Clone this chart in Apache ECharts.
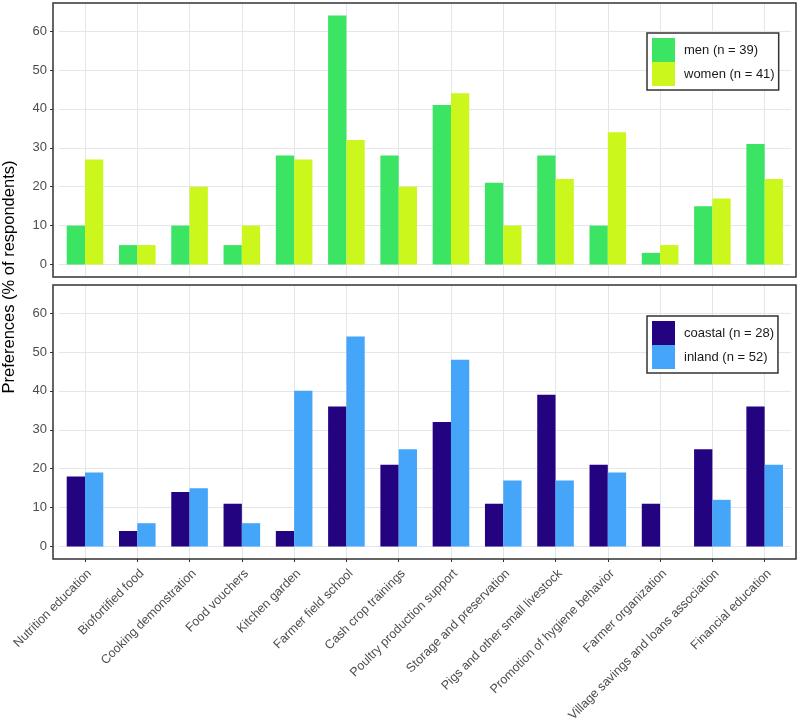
<!DOCTYPE html>
<html>
<head>
<meta charset="utf-8">
<script src="https://cdn.jsdelivr.net/npm/echarts@6/dist/echarts.min.js"></script>
<style>
html,body{margin:0;padding:0;background:#fff;}
#chart{width:798px;height:723px;}
</style>
</head>
<body>
<div id="chart"></div>
<script>
var categories = ["Nutrition education","Biofortified food","Cooking demonstration","Food vouchers","Kitchen garden","Farmer field school","Cash crop trainings","Poultry production support","Storage and preservation","Pigs and other small livestock","Promotion of hygiene behavior","Farmer organization","Village savings and loans association","Financial education"];
var men = [10,5,10,5,28,64,28,41,21,28,10,3,15,31];
var women = [27,5,20,10,27,32,20,44,10,22,34,5,17,22];
var coastal = [18,4,14,11,4,36,21,32,11,39,21,11,25,36];
var inland = [19,6,15,6,40,54,25,48,17,17,19,0,12,21];
var yTicks = [0,10,20,30,40,50,60];
var seriesNames = ["men (n = 39)","women (n = 41)","coastal (n = 28)","inland (n = 52)"];
var yTitle = "Preferences (% of respondents)";

var FONT = "Liberation Sans, Arial, Helvetica, sans-serif";
var gridColor = "#e2e7eb";
var frameColor = "#333333";
var catIndex = categories.map(function (c, i) { return i; });

function xAxisCfg(idx, showLabels) {
  return {
    type: "category",
    gridIndex: idx,
    position: "bottom",
    data: categories,
    boundaryGap: true,
    axisLine: {show: false, onZero: false},
    axisTick: {show: showLabels, alignWithLabel: true, length: 3, interval: 0, lineStyle: {color: frameColor}},
    axisLabel: {show: showLabels, interval: 0, rotate: 45, margin: 8, verticalAlign: "top",
                color: "#4d4d4d", fontSize: 12.5, fontFamily: FONT},
    splitLine: {show: false}
  };
}
// helper axis only for vertical grid lines through category centres
function xGridAxisCfg(idx) {
  return {
    type: "value",
    gridIndex: idx,
    position: "top",
    min: -0.5,
    max: categories.length - 0.5,
    axisLine: {show: false, onZero: false},
    axisTick: {show: false, customValues: catIndex},
    axisLabel: {show: false, customValues: catIndex},
    splitLine: {show: true, lineStyle: {color: gridColor, width: 1}}
  };
}
function yAxisCfg(idx) {
  return {
    type: "value",
    gridIndex: idx,
    position: "left",
    min: -3.2,
    max: 67.2,
    offset: 5.86,
    axisLine: {show: false, onZero: false},
    axisTick: {show: true, length: 3, customValues: yTicks, lineStyle: {color: frameColor}},
    axisLabel: {show: true, customValues: yTicks, margin: 6, color: "#4d4d4d", fontSize: 13, fontFamily: FONT},
    splitLine: {show: true, lineStyle: {color: gridColor, width: 1}}
  };
}
function legendCfg(top, names) {
  return {
    data: names,
    orient: "vertical",
    left: 647,
    top: top,
    itemWidth: 23,
    itemHeight: 24,
    itemGap: 0,
    icon: "rect",
    padding: [5, 4, 4, 5],
    borderColor: frameColor,
    borderWidth: 1.5,
    backgroundColor: "#fff",
    selectedMode: false,
    textStyle: {fontSize: 13, color: "#1a1a1a", fontFamily: FONT, padding: [0, 0, 0, 4]}
  };
}
function barSeries(name, data, color, idx) {
  return {
    type: "bar",
    name: name,
    data: data,
    xAxisIndex: idx,
    yAxisIndex: idx,
    barGap: "0%",
    barCategoryGap: "30%",
    itemStyle: {color: color},
    emphasis: {disabled: true},
    animation: false
  };
}

var chart = echarts.init(document.getElementById("chart"), null, {renderer: "canvas"});
chart.setOption({
  animation: false,
  backgroundColor: "#fff",
  textStyle: {fontFamily: FONT},
  grid: [
    {left: 58.86, right: 7.2, top: 3, height: 274, containLabel: false, outerBoundsMode: "none"},
    {left: 58.86, right: 7.2, top: 285, height: 274, containLabel: false, outerBoundsMode: "none"}
  ],
  xAxis: [xAxisCfg(0, false), xAxisCfg(1, true), xGridAxisCfg(0), xGridAxisCfg(1)],
  yAxis: [yAxisCfg(0), yAxisCfg(1)],
  legend: [legendCfg(33, [seriesNames[0], seriesNames[1]]), legendCfg(316, [seriesNames[2], seriesNames[3]])],
  series: [
    barSeries(seriesNames[0], men, "#3be462", 0),
    barSeries(seriesNames[1], women, "#cbf71d", 0),
    barSeries(seriesNames[2], coastal, "#240381", 1),
    barSeries(seriesNames[3], inland, "#45a5f9", 1)
  ],
  graphic: [
    {type: "rect", z: 100, silent: true, shape: {x: 53, y: 3, width: 743, height: 274}, style: {fill: "none", stroke: frameColor, lineWidth: 1.5}},
    {type: "rect", z: 100, silent: true, shape: {x: 53, y: 285, width: 743, height: 274}, style: {fill: "none", stroke: frameColor, lineWidth: 1.5}},
    {type: "text", z: 100, silent: true, x: 9, y: 277, rotation: Math.PI / 2,
     style: {text: yTitle, fontSize: 16.5, fill: "#000", fontFamily: FONT, textAlign: "center", textVerticalAlign: "middle"}}
  ]
});
</script>
</body>
</html>
